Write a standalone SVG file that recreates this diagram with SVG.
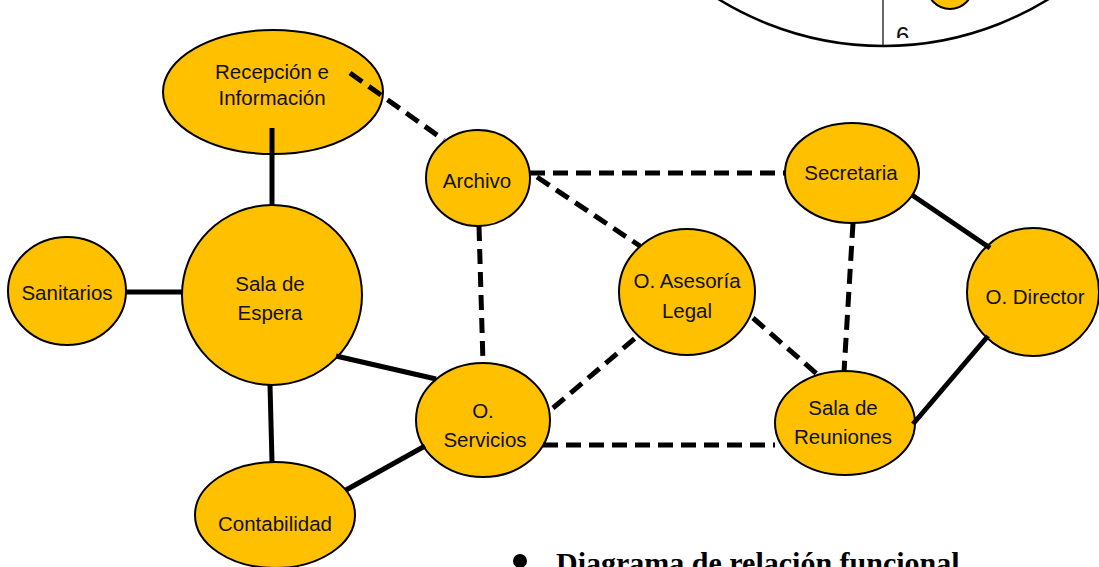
<svg xmlns="http://www.w3.org/2000/svg" width="1099" height="567" viewBox="0 0 1099 567">
<defs>
<style>
.n{fill:#FFC000;stroke:#000;stroke-width:2}
.t{font-family:"Liberation Sans",Arial,sans-serif;font-size:20.5px;fill:#111;text-anchor:middle}
.s{stroke:#000;stroke-width:5;fill:none}
.d{stroke:#000;stroke-width:5;fill:none;stroke-dasharray:15 8}
</style>
<clipPath id="cc"><circle cx="883.5" cy="-267.6" r="313.6"/></clipPath>
<clipPath id="c6"><rect x="880" y="0" width="60" height="38"/></clipPath>
</defs>
<g id="top-circle">
<circle cx="883.5" cy="-267.6" r="313.6" fill="#fff" stroke="#000" stroke-width="2.5"/>
<g clip-path="url(#cc)">
<line x1="883" y1="0" x2="883" y2="50" stroke="#000" stroke-width="1.2"/>
<circle cx="950" cy="-14" r="23" class="n"/>
<text x="896" y="44" clip-path="url(#c6)" font-family="Liberation Sans,Arial,sans-serif" font-size="24" fill="#111">6</text>
</g>
</g>
<g id="recepcion">
<ellipse class="n" cx="273" cy="92" rx="110" ry="62"/>
<text class="t" x="272" y="79">Recepción e</text>
<text class="t" x="272" y="105">Información</text>
</g>
<g id="archivo">
<ellipse class="n" cx="478" cy="178" rx="52" ry="48"/>
<text class="t" x="477" y="188">Archivo</text>
</g>
<g id="sala-espera">
<circle class="n" cx="272" cy="295" r="90"/>
<text class="t" x="270" y="291">Sala de</text>
<text class="t" x="270" y="320">Espera</text>
</g>
<g id="sanitarios">
<ellipse class="n" cx="67" cy="291" rx="59" ry="54"/>
<text class="t" x="67" y="300">Sanitarios</text>
</g>
<g id="contabilidad">
<ellipse class="n" cx="275" cy="515" rx="80" ry="53"/>
<text class="t" x="275" y="531">Contabilidad</text>
</g>
<g id="servicios">
<ellipse class="n" cx="483" cy="420" rx="67" ry="57"/>
<text class="t" x="483" y="418">O.</text>
<text class="t" x="485" y="447">Servicios</text>
</g>
<g id="asesoria">
<ellipse class="n" cx="687" cy="292" rx="68" ry="63"/>
<text class="t" x="687" y="288">O. Asesoría</text>
<text class="t" x="687" y="318">Legal</text>
</g>
<g id="secretaria">
<ellipse class="n" cx="852" cy="173" rx="67" ry="50"/>
<text class="t" x="851" y="180">Secretaria</text>
</g>
<g id="director">
<ellipse class="n" cx="1033" cy="292" rx="66" ry="64"/>
<text class="t" x="1035" y="304">O. Director</text>
</g>
<g id="reuniones">
<ellipse class="n" cx="845" cy="423" rx="70" ry="52"/>
<text class="t" x="843" y="415">Sala de</text>
<text class="t" x="843" y="444">Reuniones</text>
</g>
<g id="connectors">
<line class="s" x1="272" y1="128" x2="272" y2="206"/>
<line class="s" x1="125" y1="292" x2="183" y2="292"/>
<line class="s" x1="336" y1="356" x2="436" y2="379"/>
<line class="s" x1="270" y1="385" x2="272" y2="462"/>
<line class="s" x1="346" y1="490" x2="425" y2="446"/>
<line class="s" x1="912" y1="195" x2="990" y2="248"/>
<line class="s" x1="988" y1="336" x2="913" y2="424"/>
<line class="d" x1="350" y1="73" x2="444" y2="140"/>
<line class="d" x1="530" y1="173" x2="786" y2="173"/>
<line class="d" x1="537" y1="177" x2="640" y2="246"/>
<line class="d" x1="479" y1="226" x2="483" y2="363"/>
<line class="d" x1="553" y1="408" x2="640" y2="334"/>
<line class="d" x1="543" y1="445" x2="775" y2="445"/>
<line class="d" x1="753" y1="318" x2="818" y2="375"/>
<line class="d" x1="853" y1="223" x2="844" y2="372"/>
</g>
<g id="caption">
<circle cx="520" cy="561" r="7" fill="#000"/>
<text x="556" y="573" font-family="Liberation Serif,'Times New Roman',serif" font-weight="bold" font-size="30" fill="#000">Diagrama de relación funcional</text>
</g>
</svg>
